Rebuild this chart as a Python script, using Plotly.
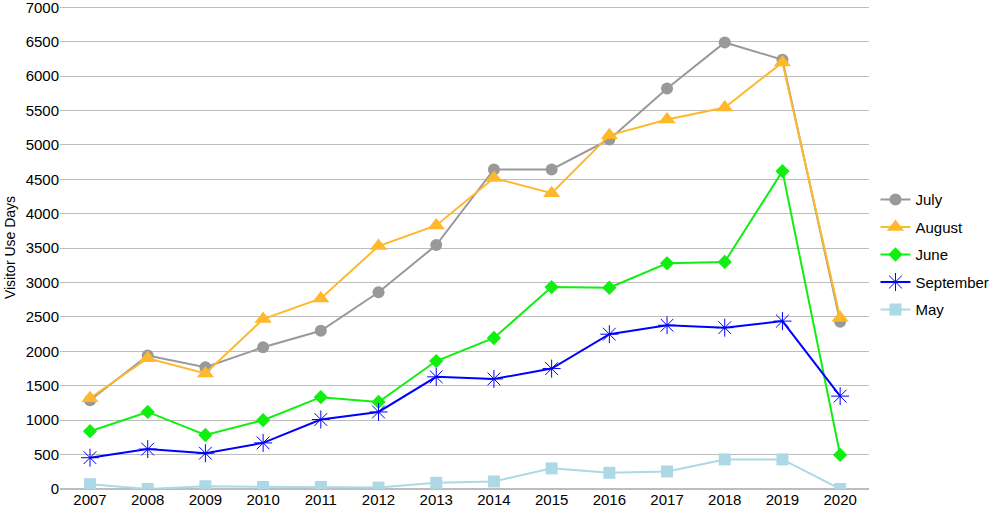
import plotly.graph_objects as go

years = list(range(2007, 2021))

july = [1290, 1940, 1770, 2060, 2300, 2860, 3545, 4645, 4645, 5080, 5820, 6490, 6240, 2430]
august = [1320, 1900, 1680, 2470, 2770, 3530, 3830, 4520, 4300, 5140, 5370, 5545, 6200, 2490]
june = [840, 1120, 785, 1000, 1335, 1265, 1860, 2195, 2935, 2925, 3280, 3300, 4620, 495]
september = [455, 580, 520, 670, 1010, 1120, 1630, 1600, 1750, 2250, 2380, 2345, 2440, 1350]
may = [70, 0, 40, 30, 30, 20, 90, 110, 300, 235, 255, 430, 430, 0]

series = [
    ("July", july, "#999999", "circle", 12),
    ("August", august, "#FDB92B", "triangle-up", 15),
    ("June", june, "#11EE11", "diamond", 11),
    ("September", september, "#0000FF", "asterisk-open", 15),
    ("May", may, "#ADD8E6", "square", 12),
]

fig = go.Figure()
for name, vals, color, symbol, size in series:
    marker = dict(symbol=symbol, size=size, color=color)
    if symbol == "asterisk-open":
        marker["line"] = dict(color=color, width=1)
    fig.add_trace(go.Scatter(
        x=years, y=vals, name=name, mode="lines+markers",
        line=dict(color=color, width=2), marker=marker,
        legendgroup=name,
    ))

fig.update_layout(
    width=1000, height=519,
    margin=dict(l=60, r=129, t=6, b=30),
    paper_bgcolor="white", plot_bgcolor="white",
    font=dict(family="Arial, Liberation Sans, sans-serif", size=15, color="black"),
    legend=dict(x=1.008, y=0.485, yanchor="middle", xanchor="left",
                tracegroupgap=5, font=dict(size=15)),
    xaxis=dict(range=[2006.48, 2020.5], tickvals=years, showgrid=False,
               zeroline=False, showline=False, ticks="", automargin=False),
    yaxis=dict(range=[0, 7020], dtick=500, showgrid=True, gridcolor="#BDBDBD",
               gridwidth=1, zeroline=True, zerolinecolor="#BDBDBD",
               ticklabeloverflow="allow", automargin=False,
               title=dict(text="Visitor Use Days", font=dict(size=14), standoff=6),
               ticks="", tickfont=dict(size=15)),
)

# drop the page's default body margin so the chart sits at the window edge
fig.write_html("out.html", config={"displayModeBar": False},
               post_script="document.body.style.margin='0';")
